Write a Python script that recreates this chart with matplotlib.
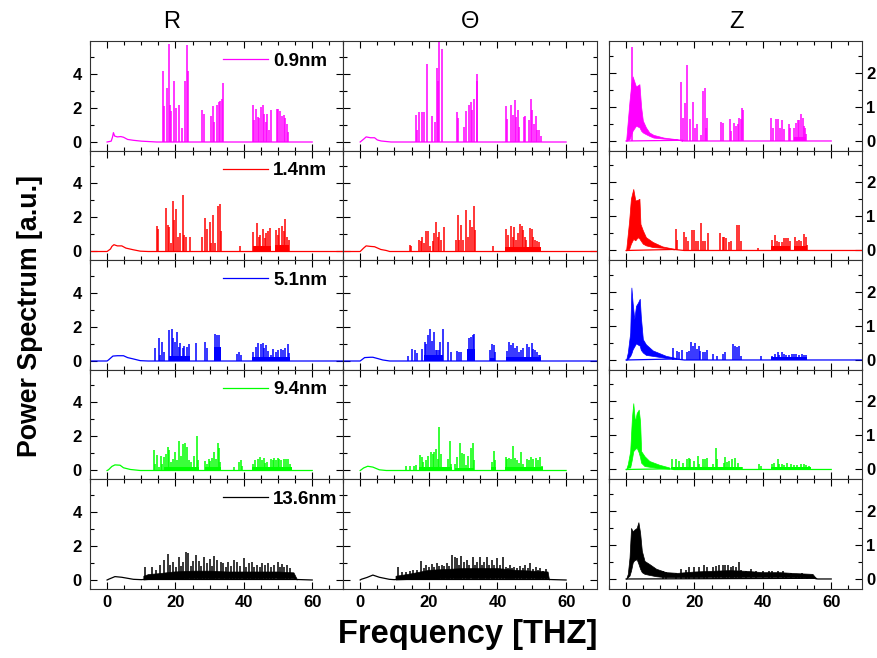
#! /usr/bin/env python3

import numpy as np
from matplotlib import pylab as plt
from matplotlib.ticker import MultipleLocator

plt.rcParams['font.family'] = ['Liberation Sans', 'DejaVu Sans']

sizes = ['0.9nm', '1.4nm', '5.1nm', '9.4nm', '13.6nm']
colors = ['#ff00ff', '#ff0000', '#0000ff', '#00ff00', '#000000']
components = ['R', '\u0398', 'Z']

# ---------------- 0.9 nm ----------------
R_09_base = [(0, 0), (1.2, 0.05), (1.6, 0.3), (1.85, 0.55), (2.2, 0.35), (3, 0.3),
             (4, 0.32), (4.8, 0.28), (6, 0.15), (7.7, 0.1), (10, 0.05), (14.5, 0), (60, 0)]
R_09_peaks = [(16.3, 4.16), (16.7, 2.1), (17.4, 3.2), (18.0, 5.75), (18.4, 2.2), (18.8, 1.8),
              (19.7, 3.6), (20.2, 2.0), (21.0, 2.2), (21.85, 0.8), (22.7, 3.6), (23.3, 5.7),
              (23.8, 4.2), (27.9, 1.9), (28.2, 1.67), (30.4, 1.5), (30.9, 2.1), (31.3, 1.2),
              (32.2, 2.2), (32.7, 2.35), (33.1, 2.4), (33.6, 2.5), (34.0, 3.47), (42.6, 2.2),
              (43.0, 1.3), (43.5, 1.95), (44.1, 1.47), (44.5, 1.4), (45.0, 2.06), (45.6, 2.2),
              (46.0, 1.67), (46.5, 1.2), (46.9, 1.67), (47.5, 0.7), (47.8, 1.86), (49.7, 1.94),
              (50.1, 1.96), (50.6, 1.85), (51.1, 1.5), (51.6, 1.6), (52.1, 1.4), (52.6, 1.08),
              (53.0, 0.6)]
R_09_dense = []

T_09_base = [(0, 0), (1.2, 0.2), (1.75, 0.3), (3, 0.25), (4.2, 0.25), (5, 0.12), (6.1, 0.06),
             (9, 0), (60, 0)]
T_09_peaks = [(16.3, 1.57), (16.6, 0.7), (17.2, 1.75), (17.9, 1.75), (18.6, 1.75), (19.6, 4.57),
              (20.9, 1.53), (21.8, 1.2), (22.5, 4.37), (22.8, 3.6), (23.1, 5.9), (23.8, 5.45),
              (28.1, 1.75), (28.4, 1.4), (30.3, 0.9), (30.8, 1.8), (31.8, 2.2), (32.2, 2.37),
              (32.7, 1.86), (33.3, 2.5), (33.9, 4.0), (34.1, 3.6), (42.5, 2.14), (42.9, 1.37),
              (43.9, 2.18), (44.4, 1.57), (45.0, 2.45), (45.5, 1.47), (45.9, 1.86), (46.4, 0.9),
              (47.6, 1.47), (47.9, 1.5), (49.3, 1.27), (49.9, 2.55), (50.2, 1.86), (50.7, 1.03),
              (51.1, 1.5), (51.6, 0.69), (52.2, 0.69), (52.6, 0.33)]
T_09_dense = []

Z_09_base = [(0, 0), (16.5, 0.02), (17, 0), (60, 0)]
Z_09_band_x = [0.0, 1.0, 1.5, 1.9, 2.9, 3.9, 4.4, 4.9, 5.8, 6.8, 8, 11, 15, 16.5]
Z_09_band_lo = [0, 0.05, 0.2, 0.3, 0.45, 0.4, 0.3, 0.25, 0.2, 0.15, 0.1, 0.07, 0.04, 0.0]
Z_09_band_hi = [0, 1.18, 1.67, 1.9, 1.6, 1.67, 1.0, 0.6, 0.4, 0.25, 0.18, 0.1, 0.05, 0.02]
Z_09_peaks = [(1.85, 2.75), (16.2, 1.72), (16.7, 0.67), (17.3, 1.13), (17.9, 2.23), (18.7, 0.64),
              (19.6, 1.16), (20.2, 0.37), (20.8, 0.51), (21.8, 0.18), (22.5, 1.47), (22.96, 1.57),
              (23.4, 0.39), (23.8, 0.67), (27.9, 0.56), (28.2, 0.54), (30.4, 0.65), (30.8, 0.29),
              (31.6, 0.54), (32.1, 0.44), (32.6, 0.49), (33.1, 0.67), (33.5, 0.64), (33.85, 0.96),
              (34.2, 0.9), (42.5, 0.67), (43.0, 0.39), (43.8, 0.64), (44.4, 0.64), (45.0, 0.39),
              (45.7, 0.62), (46.2, 0.34), (47.7, 0.49), (48.0, 0.39), (49.1, 0.39), (49.8, 0.54),
              (50.3, 0.61), (50.6, 0.61), (51.1, 0.8), (51.6, 0.67), (52.0, 0.44), (52.4, 0.39),
              (52.7, 0.2)]
Z_09_dense = [(49.0, 52.7, 0.12)]

# ---------------- 1.4 nm ----------------
R_14_base = [(-5, 0), (0, 0), (1.0, 0.15), (1.4, 0.3), (2.0, 0.4), (3, 0.33), (4.3, 0.33),
             (5.5, 0.2), (7.7, 0.1), (9.7, 0.02), (12, 0), (70, 0)]
R_14_peaks = [(14.5, 1.5), (14.8, 1.3), (17.2, 2.55), (17.7, 1.57), (18.1, 1.43), (18.6, 0.5),
              (19.3, 2.98), (19.6, 1.85), (20.2, 2.5), (20.7, 0.88), (21.2, 1.08), (22.1, 3.33),
              (22.6, 0.98), (23.1, 0.88), (24.3, 0.84), (27.9, 0.88), (28.7, 1.96), (29.3, 1.3),
              (30.0, 1.76), (30.4, 0.49), (31.0, 2.12), (31.6, 0.49), (32.4, 2.65), (33.1, 2.8),
              (33.4, 1.2), (38.9, 0.3), (42.8, 1.12), (43.8, 1.67), (44.3, 0.88), (44.8, 0.98),
              (45.6, 1.35), (46.1, 0.78), (46.5, 1.08), (47.0, 1.18), (47.7, 1.37), (49.4, 1.27),
              (49.9, 0.98), (50.3, 1.37), (51.1, 1.5), (51.6, 1.23), (52.1, 1.94), (52.6, 0.88),
              (53.1, 0.69)]
R_14_dense = [(42.6, 48.0, 0.3), (49.2, 53.3, 0.4)]

T_14_base = [(-5, 0), (0, 0), (1.0, 0.2), (1.75, 0.33), (3, 0.3), (4.2, 0.28), (6, 0.12),
             (7.6, 0.06), (8.6, 0), (70, 0)]
T_14_peaks = [(14.4, 0.39), (14.7, 0.33), (17.1, 0.69), (17.6, 0.59), (18.0, 0.88), (18.5, 0.49),
              (19.3, 1.2), (19.9, 1.2), (20.4, 0.3), (21.1, 0.6), (21.6, 1.08), (22.2, 1.73),
              (22.6, 0.88), (23.0, 1.12), (23.5, 0.69), (24.5, 1.43), (27.8, 0.69), (28.4, 2.14),
              (28.9, 0.69), (29.3, 1.57), (30.0, 0.69), (30.8, 2.45), (31.3, 0.88), (32.1, 1.86),
              (32.7, 1.47), (33.2, 2.65), (33.5, 1.27), (38.8, 0.3), (42.5, 1.31), (43.0, 0.98),
              (43.9, 1.5), (44.4, 0.88), (44.9, 1.43), (45.4, 0.69), (46.0, 1.08), (46.6, 1.63),
              (47.1, 1.5), (47.5, 1.27), (47.9, 0.88), (48.3, 0.69), (49.6, 1.37), (50.0, 1.35),
              (50.5, 0.88), (51.0, 0.69), (51.5, 0.63), (52.0, 0.53), (52.5, 0.29)]
T_14_dense = [(42.3, 52.8, 0.25)]

Z_14_base = [(0, 0), (14, 0.03), (17, 0), (70, 0)]
Z_14_band_x = [0, 0.9, 1.4, 2.1, 2.7, 3.4, 3.9, 4.2, 4.9, 5.8, 7.8, 10.6, 14]
Z_14_band_lo = [0, 0.05, 0.2, 0.34, 0.3, 0.39, 0.35, 0.3, 0.2, 0.15, 0.1, 0.08, 0.03]
Z_14_band_hi = [0, 0.88, 1.52, 1.81, 1.47, 1.49, 1.52, 0.78, 0.59, 0.39, 0.25, 0.12, 0.05]
Z_14_peaks = [(14.6, 0.64), (14.9, 0.3), (17.0, 0.54), (17.5, 0.39), (18.0, 0.29), (19.3, 0.61),
              (20.0, 0.61), (20.5, 0.29), (21.1, 0.29), (22.0, 0.81), (22.4, 0.29), (23.1, 0.29),
              (24.1, 0.52), (27.6, 0.51), (28.2, 0.39), (28.7, 0.39), (29.2, 0.37), (30.2, 0.25),
              (30.8, 0.29), (32.3, 0.75), (33.1, 0.75), (33.6, 0.29), (38.7, 0.08), (42.6, 0.32),
              (43.6, 0.46), (44.1, 0.29), (44.8, 0.25), (45.5, 0.25), (46.3, 0.37), (46.7, 0.37),
              (47.5, 0.37), (47.9, 0.29), (49.3, 0.39), (49.9, 0.29), (50.6, 0.31), (51.3, 0.29),
              (51.9, 0.48), (52.5, 0.39), (52.8, 0.15)]
Z_14_dense = [(42.4, 48.0, 0.12), (49.0, 53.0, 0.12)]

# ---------------- 5.1 nm ----------------
R_51_base = [(-5, 0), (0, 0), (0.4, 0.06), (1.7, 0.29), (3, 0.31), (4.8, 0.31), (6, 0.2),
             (7.7, 0.12), (9.7, 0.02), (12, 0), (70, 0)]
R_51_peaks = [(13.9, 0.75), (15.1, 1.37), (15.5, 0.35), (16.0, 1.14), (16.7, 0.55), (18.0, 1.82),
              (18.9, 1.88), (19.4, 1.33), (19.9, 1.14), (20.5, 1.69), (20.9, 0.84), (21.4, 1.04),
              (22.2, 0.75), (22.6, 0.9), (23.3, 0.84), (24.0, 0.98), (25.9, 1.04), (28.5, 1.14),
              (29.2, 0.75), (31.5, 1.57), (32.1, 1.53), (32.7, 1.53), (33.1, 0.35), (38.0, 0.39),
              (38.5, 0.55), (39.1, 0.35), (42.8, 0.55), (43.5, 0.84), (44.2, 1.04), (45.0, 0.98),
              (45.6, 1.04), (46.0, 0.75), (46.5, 0.94), (47.2, 0.59), (47.8, 0.35), (48.5, 0.71),
              (49.5, 0.55), (50.1, 0.65), (50.8, 0.71), (51.4, 0.65), (52.1, 0.78), (52.9, 0.98),
              (53.3, 0.45)]
R_51_dense = [(18.0, 24.2, 0.3), (31.2, 33.2, 0.8), (42.5, 53.5, 0.25)]

T_51_base = [(-5, 0), (0, 0), (1.3, 0.2), (3, 0.22), (3.7, 0.22), (5, 0.15), (6.6, 0.06),
             (8.6, 0), (70, 0)]
T_51_peaks = [(14.0, 0.29), (15.2, 0.69), (16.0, 0.65), (16.6, 0.45), (18.0, 0.71), (18.8, 1.1),
              (19.3, 0.98), (19.9, 1.53), (20.3, 1.88), (20.9, 1.18), (21.5, 1.69), (22.0, 0.65),
              (22.5, 0.65), (23.0, 0.65), (23.4, 1.1), (24.0, 1.88), (25.7, 1.1), (26.6, 0.55),
              (28.3, 0.59), (28.9, 0.55), (29.4, 0.55), (31.6, 1.33), (32.2, 1.43), (32.8, 1.53),
              (33.3, 1.61), (37.9, 0.65), (38.4, 0.98), (39.0, 0.94), (39.4, 0.55), (42.7, 0.59),
              (43.5, 1.1), (44.0, 0.94), (44.6, 1.04), (45.2, 0.75), (45.7, 0.9), (46.4, 0.55),
              (46.9, 0.65), (47.3, 0.75), (48.6, 0.98), (49.2, 0.84), (50.0, 1.04), (50.5, 0.71),
              (51.0, 0.65), (51.5, 0.55), (52.0, 0.35), (52.5, 0.35)]
T_51_dense = [(18.6, 24.2, 0.35), (31.2, 33.5, 0.7), (37.8, 39.3, 0.2), (42.5, 52.8, 0.25)]

Z_51_base = [(0, 0), (14.6, 0.03), (17, 0), (70, 0)]
Z_51_band_x = [0, 0.5, 1.2, 1.55, 1.9, 2.4, 2.9, 3.5, 4.0, 4.3, 4.9, 5.8, 7.8, 11.7, 14.6]
Z_51_band_lo = [0, 0.03, 0.12, 0.2, 0.31, 0.4, 0.49, 0.45, 0.42, 0.3, 0.22, 0.15, 0.12, 0.06, 0.03]
Z_51_band_hi = [0, 0.22, 0.8, 2.13, 1.69, 1.2, 1.59, 1.69, 1.8, 1.29, 0.61, 0.46, 0.28, 0.12, 0.06]
Z_51_peaks = [(13.8, 0.36), (15.0, 0.26), (15.6, 0.24), (16.3, 0.29), (17.7, 0.22), (18.3, 0.26),
              (18.9, 0.53), (19.5, 0.41), (20.2, 0.51), (20.7, 0.31), (21.2, 0.41), (21.7, 0.26),
              (22.4, 0.24), (23.0, 0.22), (23.8, 0.29), (25.3, 0.17), (26.5, 0.12), (28.4, 0.17),
              (29.0, 0.22), (31.3, 0.46), (31.9, 0.41), (32.5, 0.39), (33.1, 0.41), (33.5, 0.12),
              (39.4, 0.12), (42.8, 0.12), (43.6, 0.17), (44.3, 0.22), (44.8, 0.14), (45.5, 0.22),
              (46.2, 0.17), (46.9, 0.14), (47.7, 0.14), (48.5, 0.17), (49.2, 0.17), (49.8, 0.17),
              (50.6, 0.14), (51.5, 0.17), (52.0, 0.16), (52.7, 0.14)]
Z_51_dense = [(42.5, 53.0, 0.08)]

# ---------------- 9.4 nm ----------------
R_94_base = [(0, 0), (0.4, 0.04), (1.4, 0.24), (2.3, 0.33), (3.8, 0.31), (4.8, 0.16),
             (6.8, 0.06), (9.7, 0), (60, 0)]
R_94_peaks = [(13.6, 1.22), (13.9, 0.39), (14.5, 0.92), (15.1, 0.2), (15.7, 0.88), (16.2, 0.39),
              (16.7, 0.78), (17.3, 0.98), (17.9, 1.37), (18.2, 1.18), (18.7, 0.49), (19.4, 0.69),
              (20.0, 1.08), (20.4, 0.59), (21.0, 1.73), (21.6, 0.88), (22.3, 1.57), (22.9, 1.63),
              (23.5, 1.37), (24.0, 0.59), (24.6, 0.49), (25.3, 0.88), (26.2, 2.02), (26.7, 0.59),
              (28.7, 0.55), (29.2, 0.39), (29.7, 0.69), (30.1, 0.55), (30.7, 0.75), (31.3, 1.08),
              (31.8, 0.69), (32.4, 1.61), (32.8, 1.33), (33.1, 0.49), (37.0, 0.2), (38.5, 0.49),
              (39.1, 0.63), (39.6, 0.29), (42.6, 0.39), (43.3, 0.63), (44.0, 0.69), (44.6, 0.82),
              (45.2, 0.59), (45.8, 0.75), (46.3, 0.43), (46.9, 0.49), (47.9, 0.69), (48.4, 0.59),
              (48.9, 0.75), (49.4, 0.63), (49.9, 0.75), (50.4, 0.69), (51.0, 0.59), (51.6, 0.69),
              (52.2, 0.69), (52.8, 0.69), (53.4, 0.39)]
R_94_dense = [(16.5, 26.8, 0.2), (28.5, 33.2, 0.18), (42.5, 54.0, 0.2)]

T_94_base = [(0, 0), (0.3, 0.04), (1.0, 0.15), (2.2, 0.25), (3.7, 0.2), (5.6, 0.04), (7.6, 0),
             (60, 0)]
T_94_peaks = [(13.5, 0.29), (14.4, 0.24), (15.6, 0.24), (16.4, 0.35), (17.4, 0.92), (17.9, 0.78),
              (18.4, 0.49), (19.1, 0.63), (19.9, 0.88), (20.5, 1.08), (21.1, 0.98), (21.6, 1.08),
              (22.2, 1.27), (22.7, 0.69), (23.1, 2.55), (23.5, 0.98), (24.2, 0.2), (25.0, 0.2),
              (25.5, 0.69), (26.1, 1.73), (26.6, 0.39), (27.6, 0.39), (28.3, 0.78), (29.1, 1.61),
              (29.7, 1.02), (30.2, 0.98), (30.8, 0.35), (31.5, 0.88), (32.2, 1.33), (32.8, 1.61),
              (33.2, 0.59), (38.3, 0.49), (39.0, 1.12), (39.4, 0.59), (42.4, 0.82), (42.9, 0.69),
              (43.5, 0.75), (44.0, 0.69), (44.6, 1.47), (45.1, 0.75), (45.7, 0.63), (46.3, 0.43),
              (46.8, 1.08), (47.4, 0.39), (48.6, 0.69), (49.3, 0.63), (49.9, 0.82), (50.5, 0.69),
              (51.1, 0.75), (51.7, 0.59), (52.5, 0.78), (53.0, 0.29)]
T_94_dense = [(17.2, 26.8, 0.2), (27.5, 33.3, 0.15), (38.1, 39.6, 0.2), (42.3, 53.2, 0.2)]

Z_94_base = [(0, 0), (12.6, 0.02), (14, 0), (60, 0)]
Z_94_band_x = [0, 0.5, 1.2, 1.7, 2.1, 2.6, 3.1, 3.7, 4.1, 4.4, 5.4, 6.8, 9.7, 12.6]
Z_94_band_lo = [0, 0.05, 0.06, 0.3, 0.54, 0.6, 0.64, 0.5, 0.35, 0.2, 0.1, 0.08, 0.04, 0.02]
Z_94_band_hi = [0, 0.16, 0.54, 1.51, 1.95, 1.4, 1.66, 1.76, 1.4, 0.54, 0.39, 0.25, 0.14, 0.06]
Z_94_peaks = [(13.4, 0.3), (14.6, 0.3), (15.6, 0.25), (16.5, 0.2), (17.7, 0.3), (18.3, 0.33),
              (18.7, 0.3), (20.0, 0.25), (20.9, 0.4), (21.4, 0.16), (22.4, 0.3), (23.2, 0.3),
              (23.7, 0.33), (25.3, 0.16), (26.2, 0.62), (26.6, 0.3), (28.5, 0.2), (29.0, 0.37),
              (29.5, 0.23), (30.2, 0.25), (31.1, 0.3), (31.9, 0.33), (32.6, 0.2), (34.0, 0.06),
              (38.9, 0.17), (39.4, 0.1), (42.6, 0.17), (43.3, 0.2), (44.3, 0.32), (44.8, 0.16),
              (45.5, 0.17), (46.2, 0.14), (47.2, 0.2), (48.2, 0.16), (49.1, 0.14), (50.1, 0.14),
              (51.1, 0.17), (52.1, 0.16), (52.7, 0.14), (53.5, 0.1)]
Z_94_dense = [(13.0, 34.0, 0.06), (42.3, 54.0, 0.08)]

# ---------------- 13.6 nm ----------------
R_136_base = [(0, 0), (0.4, 0.04), (2.3, 0.2), (4.3, 0.16), (7.7, 0.04), (10, 0.02),
              (10.6, 0.03), (55.5, 0.03), (60, 0)]
R_136_band_x = [10.6, 12, 15, 19.4, 25, 30, 35, 40, 45, 50, 54.5, 55.5]
R_136_band_lo = [0.03, 0.05, 0.07, 0.08, 0.1, 0.1, 0.1, 0.1, 0.1, 0.12, 0.1, 0.03]
R_136_band_hi = [0.25, 0.35, 0.4, 0.5, 0.55, 0.55, 0.5, 0.5, 0.5, 0.5, 0.45, 0.05]
R_136_peaks = [(11.1, 0.78), (13.0, 0.78), (14.2, 0.6), (15.5, 0.88), (16.7, 1.18), (17.8, 1.51),
               (18.4, 0.88), (19.4, 1.04), (20.1, 0.75), (20.9, 1.33), (21.5, 0.8), (22.2, 1.08),
               (23.0, 1.63), (23.8, 1.61), (24.4, 0.8), (25.1, 1.14), (26.0, 1.47), (26.9, 1.14),
               (27.5, 0.8), (28.2, 1.37), (29.2, 0.98), (30.1, 1.21), (30.7, 0.8), (31.3, 1.41),
               (32.1, 1.18), (33.3, 1.04), (34.0, 0.98), (34.8, 0.75), (35.5, 1.08), (36.3, 0.8),
               (37.0, 1.18), (38.0, 1.08), (39.0, 0.8), (39.9, 1.27), (40.7, 0.75), (41.4, 0.98),
               (42.3, 1.08), (43.0, 0.75), (43.8, 0.88), (44.6, 0.75), (45.3, 0.98), (46.2, 0.88),
               (47.2, 0.98), (48.0, 0.75), (48.7, 0.88), (49.9, 1.04), (50.5, 0.75), (51.1, 0.92),
               (51.8, 0.75), (52.6, 0.88), (53.6, 0.69)]

T_136_base = [(0, 0), (0.3, 0.04), (2, 0.15), (3.7, 0.29), (5.6, 0.16), (8.5, 0.04), (10, 0.02),
              (10.3, 0.03), (55, 0.03), (60, 0)]
T_136_band_x = [10.3, 12, 15, 20, 25, 30, 35, 40, 45, 50, 54.6, 55]
T_136_band_lo = [0.03, 0.04, 0.06, 0.08, 0.1, 0.12, 0.12, 0.12, 0.12, 0.12, 0.1, 0.03]
T_136_band_hi = [0.25, 0.3, 0.4, 0.6, 0.65, 0.7, 0.7, 0.7, 0.6, 0.55, 0.5, 0.05]
T_136_peaks = [(11.0, 0.78), (12.2, 0.45), (13.5, 0.49), (14.6, 0.5), (15.4, 0.59), (16.5, 0.6),
               (17.7, 1.12), (18.5, 0.7), (19.3, 0.88), (20.0, 0.75), (20.8, 0.92), (21.6, 0.75),
               (22.5, 0.98), (23.1, 0.8), (23.7, 0.88), (24.5, 0.8), (25.2, 1.02), (26.0, 0.85),
               (26.7, 1.47), (27.6, 1.37), (28.1, 1.27), (28.7, 0.9), (29.3, 1.41), (30.2, 1.08),
               (31.0, 1.18), (31.8, 0.9), (32.8, 1.37), (33.4, 0.9), (34.0, 1.08), (34.9, 1.37),
               (35.5, 0.9), (36.1, 1.08), (36.9, 1.37), (37.6, 0.9), (38.3, 1.18), (39.1, 0.9),
               (39.8, 1.27), (40.6, 0.9), (41.5, 1.33), (42.5, 0.78), (43.1, 0.7), (43.7, 0.88),
               (44.3, 0.7), (44.9, 0.78), (45.7, 0.7), (46.6, 0.82), (47.3, 0.7), (47.9, 0.88),
               (48.8, 0.7), (49.6, 0.98), (50.3, 0.65), (51.1, 0.78), (51.8, 0.6), (52.5, 0.69),
               (53.3, 0.55), (54.0, 0.63)]

Z_136_base = [(0, 0), (55.5, 0.02), (56, 0), (60, 0)]
Z_136_band_x = [0, 0.5, 1.0, 1.45, 1.95, 2.4, 3.1, 3.6, 4.1, 4.6, 5.4, 6.8, 8.8, 11.7, 15, 20,
                25, 30, 35, 40, 45, 50, 54.5, 55.5]
Z_136_band_lo = [0, 0.05, 0.1, 0.25, 0.49, 0.55, 0.58, 0.45, 0.3, 0.2, 0.15, 0.12, 0.08, 0.05,
                 0.05, 0.05, 0.06, 0.06, 0.06, 0.06, 0.06, 0.05, 0.04, 0.01]
Z_136_band_hi = [0, 0.15, 0.63, 1.5, 1.4, 1.45, 1.5, 1.67, 1.36, 0.83, 0.53, 0.44, 0.3, 0.2,
                 0.18, 0.22, 0.24, 0.26, 0.24, 0.2, 0.2, 0.17, 0.15, 0.03]
Z_136_peaks = [(10.7, 0.24), (11.7, 0.2), (14.7, 0.17), (16.1, 0.29), (17.5, 0.26), (18.5, 0.34),
               (19.9, 0.36), (21.4, 0.34), (22.9, 0.42), (23.8, 0.36), (25.3, 0.34), (26.3, 0.39),
               (27.2, 0.42), (28.4, 0.41), (29.0, 0.42), (29.7, 0.41), (30.7, 0.34), (31.4, 0.39),
               (32.1, 0.34), (32.9, 0.49), (33.6, 0.26), (35.0, 0.24), (36.5, 0.29), (38.0, 0.24),
               (39.9, 0.24), (41.8, 0.24), (42.8, 0.24), (44.3, 0.24), (45.8, 0.22), (46.7, 0.19),
               (48.2, 0.19), (49.6, 0.16), (50.6, 0.16), (51.5, 0.19), (53.0, 0.12)]

panels = [
    [dict(base=R_09_base, peaks=R_09_peaks, dense=R_09_dense),
     dict(base=T_09_base, peaks=T_09_peaks, dense=T_09_dense),
     dict(base=Z_09_base, peaks=Z_09_peaks, dense=Z_09_dense,
          band=(Z_09_band_x, Z_09_band_lo, Z_09_band_hi))],
    [dict(base=R_14_base, peaks=R_14_peaks, dense=R_14_dense),
     dict(base=T_14_base, peaks=T_14_peaks, dense=T_14_dense),
     dict(base=Z_14_base, peaks=Z_14_peaks, dense=Z_14_dense,
          band=(Z_14_band_x, Z_14_band_lo, Z_14_band_hi))],
    [dict(base=R_51_base, peaks=R_51_peaks, dense=R_51_dense),
     dict(base=T_51_base, peaks=T_51_peaks, dense=T_51_dense),
     dict(base=Z_51_base, peaks=Z_51_peaks, dense=Z_51_dense,
          band=(Z_51_band_x, Z_51_band_lo, Z_51_band_hi))],
    [dict(base=R_94_base, peaks=R_94_peaks, dense=R_94_dense),
     dict(base=T_94_base, peaks=T_94_peaks, dense=T_94_dense),
     dict(base=Z_94_base, peaks=Z_94_peaks, dense=Z_94_dense,
          band=(Z_94_band_x, Z_94_band_lo, Z_94_band_hi))],
    [dict(base=R_136_base, peaks=R_136_peaks,
          band=(R_136_band_x, R_136_band_lo, R_136_band_hi)),
     dict(base=T_136_base, peaks=T_136_peaks,
          band=(T_136_band_x, T_136_band_lo, T_136_band_hi)),
     dict(base=Z_136_base, peaks=Z_136_peaks,
          band=(Z_136_band_x, Z_136_band_lo, Z_136_band_hi))],
]


def draw_panel(ax, data, color, label=None):
    bx, by = np.array(data['base']).T
    ax.plot(bx, by, color=color, lw=0.9, label=label)
    if 'band' in data:
        x, lo, hi = data['band']
        ax.fill_between(x, lo, hi, color=color, lw=0.5)
    for x0, x1, h in data.get('dense', []):
        ax.fill_between([x0, x1], 0, h, color=color, lw=0)
    f, h = np.array(data['peaks']).T
    ax.vlines(f, 0, h, color=color, lw=1.1)


fig = plt.figure(figsize=(8.78, 6.58), dpi=100)
W, H = 878.0, 658.0
col_left = [90, 343, 609]
col_width = [253, 254, 253]
row_top = 41
row_h = 109.5

for i in range(5):
    for j in range(3):
        bottom = 1 - (row_top + (i + 1) * row_h) / H
        ax = fig.add_axes([col_left[j] / W, bottom, col_width[j] / W, row_h / H])
        draw_panel(ax, panels[i][j], colors[i], label=sizes[i] if j == 0 else None)
        ax.set_xlim(-5, 69)
        ax.xaxis.set_major_locator(MultipleLocator(20))
        ax.xaxis.set_minor_locator(MultipleLocator(5))
        if j < 2:
            ax.set_ylim(-0.5, 5.94)
            ax.yaxis.set_major_locator(MultipleLocator(2))
            ax.yaxis.set_minor_locator(MultipleLocator(1))
        else:
            ax.set_ylim(-0.28, 2.94)
            ax.yaxis.set_major_locator(MultipleLocator(1))
            ax.yaxis.set_minor_locator(MultipleLocator(0.5))
        ax.tick_params(which='both', direction='in', top=True, right=True,
                       labelsize=12, width=0.8)
        ax.tick_params(which='major', length=5)
        ax.tick_params(which='minor', length=3)
        ax.tick_params(axis='x', pad=5)
        ax.tick_params(axis='y', pad=3)
        ax.tick_params(labelbottom=(i == 4), labelleft=(j == 0), labelright=(j == 2))
        if j == 0:
            ax.tick_params(axis='y', pad=6)
        for lab in ax.get_xticklabels() + ax.get_yticklabels():
            lab.set_fontweight('bold')
        for sp in ax.spines.values():
            sp.set_linewidth(0.8)
            sp.set_color('#333333')
        if j == 0:
            ax.legend(loc='center left', bbox_to_anchor=(0.525, 0.817), frameon=False,
                      handlelength=2.4, handletextpad=0.28, borderpad=0, borderaxespad=0,
                      prop=dict(weight='bold', size=13.5))

fig.text(172 / W, 1 - 22 / H, components[0], fontsize=17, ha='center', va='center')
fig.text(470 / W, 1 - 22 / H, components[1], fontsize=17, ha='center', va='center')
fig.text(737 / W, 1 - 22 / H, components[2], fontsize=17, ha='center', va='center')
fig.text(30 / W, 1 - 316 / H, 'Power Spectrum [a.u.]', fontsize=19.3, fontweight='bold',
         rotation=90, ha='center', va='center')
fig.text(468 / W, 1 - 635 / H, 'Frequency [THZ]', fontsize=23.5, fontweight='bold',
         ha='center', va='center')

fig.savefig('out.png', dpi=100)
